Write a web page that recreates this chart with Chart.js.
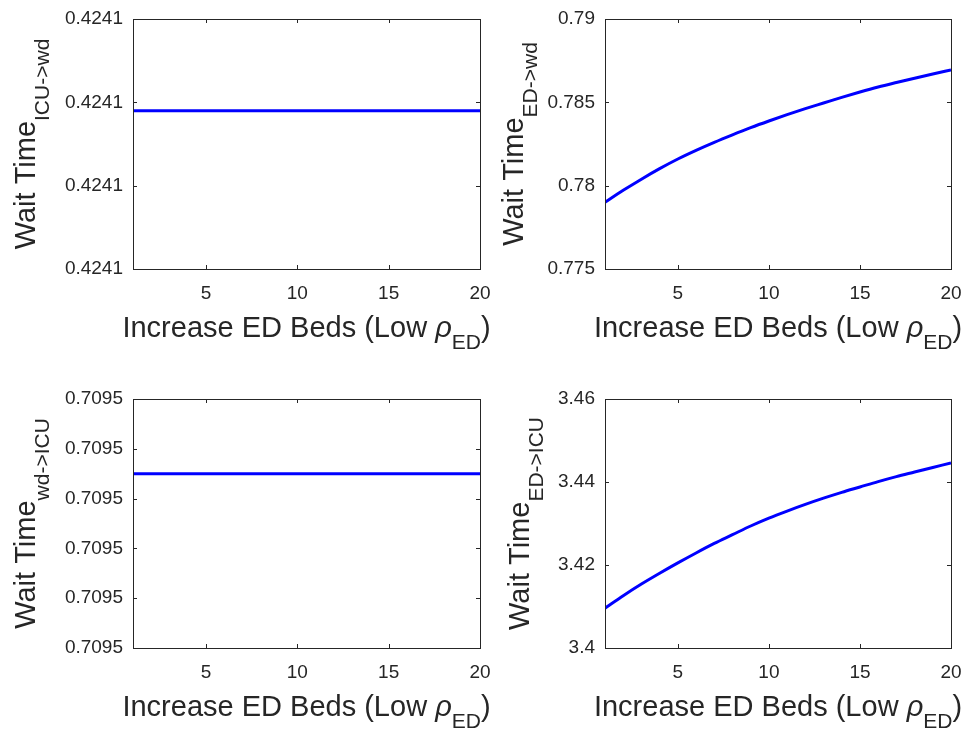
<!DOCTYPE html>
<html>
<head>
<meta charset="utf-8">
<script src="https://cdn.jsdelivr.net/npm/chart.js@4.4.1/dist/chart.umd.min.js"></script>
<style>
  body { margin: 0; background: #fff; }
  .panel { position: absolute; height: 366px; }
</style>
</head>
<body>
<div class="panel" style="left:0;top:0;width:540px"><canvas id="icuToWd" width="540" height="366"></canvas></div>
<div class="panel" style="left:484px;top:0;width:484px"><canvas id="edToWd" width="484" height="366"></canvas></div>
<div class="panel" style="left:0;top:367px;width:540px"><canvas id="wdToIcu" width="540" height="366"></canvas></div>
<div class="panel" style="left:484px;top:367px;width:484px"><canvas id="edToIcu" width="484" height="366"></canvas></div>
<script>
// x = number of extra ED beds
const beds = [1, 2, 3, 4, 5, 6, 7, 8, 9, 10, 11, 12, 13, 14, 15, 16, 17, 18, 19, 20];
const xTicks = [5, 10, 15, 20];

// wait times
const waitIcuToWd = [0.4241219, 0.4241219, 0.4241219, 0.4241219, 0.4241219, 0.4241219, 0.4241219,
    0.4241219, 0.4241219, 0.4241219, 0.4241219, 0.4241219, 0.4241219, 0.4241219, 0.4241219,
    0.4241219, 0.4241219, 0.4241219, 0.4241219, 0.4241219];
const waitEdToWd = [0.77900, 0.77972, 0.78039, 0.78102, 0.78160, 0.78212, 0.78260, 0.78305, 0.78348, 0.78388,
    0.78426, 0.78462, 0.78496, 0.78530, 0.78562, 0.78592, 0.78619, 0.78645, 0.78670, 0.78694];
const waitWdToIcu = [0.7095235, 0.7095235, 0.7095235, 0.7095235, 0.7095235, 0.7095235, 0.7095235,
    0.7095235, 0.7095235, 0.7095235, 0.7095235, 0.7095235, 0.7095235, 0.7095235, 0.7095235,
    0.7095235, 0.7095235, 0.7095235, 0.7095235, 0.7095235];
const waitEdToIcu = [3.4096, 3.4126, 3.4154, 3.4180, 3.4205, 3.4229, 3.4252, 3.4273, 3.4294, 3.4313,
    3.4330, 3.4346, 3.4361, 3.4375, 3.4388, 3.4401, 3.4413, 3.4424, 3.4435, 3.4446];

// y tick values
const icuToWdTicks = [0.424120, 0.424121, 0.424122, 0.424123];
const edToWdTicks = [0.775, 0.780, 0.785, 0.790];
const wdToIcuTicks = [0.709520, 0.709521, 0.709522, 0.709523, 0.709524, 0.709525];
const edToIcuTicks = [3.40, 3.42, 3.44, 3.46];

const FONT = '"Liberation Sans", Arial, Helvetica, sans-serif';
const INK = '#262626';

function drawParts(ctx, parts, x, y) {
    // parts: [text, size, italic, baselineShift]
    let total = 0;
    parts.forEach(p => {
        ctx.font = (p[2] ? 'italic ' : '') + p[1] + 'px ' + FONT;
        total += ctx.measureText(p[0]).width;
    });
    let cx = x - total / 2;
    parts.forEach(p => {
        ctx.font = (p[2] ? 'italic ' : '') + p[1] + 'px ' + FONT;
        ctx.fillText(p[0], cx, y + p[3]);
        cx += ctx.measureText(p[0]).width;
    });
}

const framePlugin = {
    id: 'frame',
    afterDraw(chart, args, opts) {
        const ctx = chart.ctx;
        const a = chart.chartArea;
        const xs = chart.scales.x, ys = chart.scales.y;
        ctx.save();
        ctx.strokeStyle = INK;
        ctx.lineWidth = 1;
        ctx.strokeRect(Math.round(a.left) + 0.5, Math.round(a.top) + 0.5,
            Math.round(a.right - a.left), Math.round(a.bottom - a.top));
        ctx.beginPath();
        xs.ticks.forEach(t => {
            const px = Math.round(xs.getPixelForValue(t.value)) + 0.5;
            ctx.moveTo(px, a.bottom); ctx.lineTo(px, a.bottom - 4);
            ctx.moveTo(px, a.top); ctx.lineTo(px, a.top + 4);
        });
        ys.ticks.forEach(t => {
            const py = Math.round(ys.getPixelForValue(t.value)) + 0.5;
            ctx.moveTo(a.left, py); ctx.lineTo(a.left + 4, py);
            ctx.moveTo(a.right, py); ctx.lineTo(a.right - 4, py);
        });
        ctx.stroke();

        ctx.fillStyle = INK;
        ctx.textBaseline = 'alphabetic';
        ctx.textAlign = 'left';
        drawParts(ctx, [['Increase ED Beds (Low ', 29, false, 0], ['\u03c1', 29, true, 0],
            ['ED', 21, false, 12], [')', 29, false, 0]], (a.left + a.right) / 2, a.bottom + 68);

        ctx.translate(a.left - opts.titleOffset, (a.top + a.bottom) / 2);
        ctx.rotate(-Math.PI / 2);
        drawParts(ctx, [['Wait Time', 29, false, 0], [opts.sub, 21, false, 14]], 0, 0);
        ctx.restore();
    }
};

function makePanel(id, values, yTicks, fmt, sub, layout) {
    const ctx = document.getElementById(id).getContext('2d');
    return new Chart(ctx, {
        type: 'line',
        data: {
            datasets: [{
                data: beds.map((b, i) => ({ x: b, y: values[i] })),
                borderColor: '#0000ff',
                borderWidth: 3,
                pointRadius: 0,
                cubicInterpolationMode: 'monotone',
                fill: false
            }]
        },
        options: {
            responsive: false,
            animation: false,
            devicePixelRatio: 1,
            layout: { padding: { left: 0, top: layout.top, right: layout.right, bottom: 0 } },
            plugins: {
                legend: { display: false },
                tooltip: { enabled: false },
                frame: { sub: sub, titleOffset: layout.titleOffset }
            },
            scales: {
                x: {
                    type: 'linear',
                    min: 1,
                    max: 20,
                    afterBuildTicks: s => { s.ticks = xTicks.map(v => ({ value: v })); },
                    afterFit: s => { s.height = layout.xh; s.paddingLeft = 0; s.paddingRight = 0; },
                    grid: { display: false, drawTicks: false },
                    border: { display: false },
                    ticks: { color: INK, font: { family: FONT, size: 19 }, padding: 13, maxRotation: 0 }
                },
                y: {
                    min: yTicks[0],
                    max: yTicks[yTicks.length - 1],
                    afterBuildTicks: s => { s.ticks = yTicks.map(v => ({ value: v })); },
                    afterFit: s => { s.width = layout.yw; s.paddingTop = 0; s.paddingBottom = 0; },
                    grid: { display: false, drawTicks: false },
                    border: { display: false },
                    ticks: { color: INK, font: { family: FONT, size: 19 }, padding: 10, callback: fmt }
                }
            }
        },
        plugins: [framePlugin]
    });
}

makePanel('icuToWd', waitIcuToWd, icuToWdTicks, v => v.toFixed(4), 'ICU->wd',
    { top: 19, right: 60, xh: 97, yw: 133, titleOffset: 98 });
makePanel('edToWd', waitEdToWd, edToWdTicks, v => String(parseFloat(v.toFixed(3))), 'ED->wd',
    { top: 19, right: 17, xh: 97, yw: 121, titleOffset: 82 });
makePanel('wdToIcu', waitWdToIcu, wdToIcuTicks, v => v.toFixed(4), 'wd->ICU',
    { top: 32, right: 60, xh: 85, yw: 133, titleOffset: 98 });
makePanel('edToIcu', waitEdToIcu, edToIcuTicks, v => String(parseFloat(v.toFixed(2))), 'ED->ICU',
    { top: 32, right: 17, xh: 85, yw: 121, titleOffset: 76 });
</script>
</body>
</html>
